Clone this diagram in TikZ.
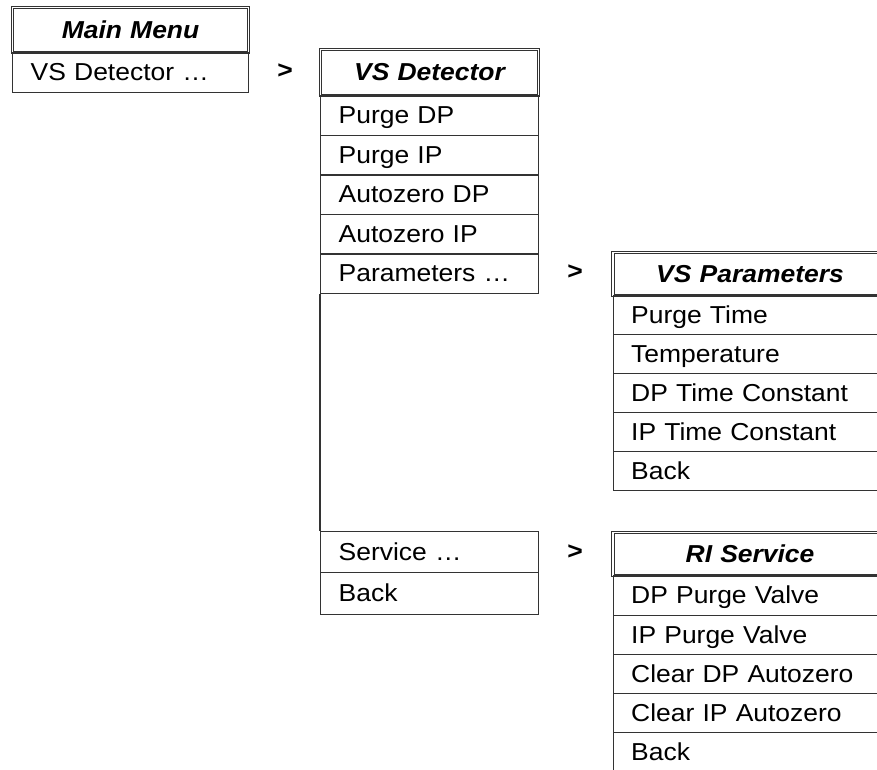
\documentclass[tikz,border=0pt]{standalone}
\usepackage{fontspec}
\setmainfont{Liberation Sans}[FakeStretch=1.08]
\definecolor{linec}{HTML}{333333}
\begin{document}
\begin{tikzpicture}[x=1pt,y=-1pt,
  txt/.style={font=\fontsize{24.5}{28}\selectfont},
  cell/.style={txt, draw=linec, line width=1.4pt, anchor=north west,
    inner xsep=18pt, inner ysep=0pt, text height=18pt, text depth=2pt,
    align=left, minimum height=#1},
  cell/.default=39.6pt,
  head/.style={txt, draw=linec, double=white, double distance=1.5pt, line width=1.1pt,
    anchor=north west, inner xsep=0pt, inner ysep=0pt, text height=18pt, text depth=2pt,
    align=center, font=\fontsize{24.5}{28}\selectfont\bfseries\itshape, minimum height=#1},
  head/.default=46pt,
  gt/.style={font=\fontsize{24.5}{28}\selectfont\bfseries, inner sep=0pt, text=black}
]
\useasboundingbox (0,0) rectangle (877,769);
\clip (0,0) rectangle (877,769);

% Main Menu
\node[head=45pt, text width=236pt] (mm) at (12,7) {Main Menu};
\node[cell=39.5pt, text width=200pt] (mm1) at (12,52) {VS Detector …};

\node[gt] (g1) at (285,71) {>};

% VS Detector
\node[head=46pt, text width=218pt] (vd) at (320,49) {VS Detector};
\node[cell, text width=182pt] (vd1) at (320,95) {Purge DP};
\node[cell, text width=182pt] (vd2) at (320,134.6) {Purge IP};
\node[cell, text width=182pt] (vd3) at (320,174.2) {Autozero DP};
\node[cell, text width=182pt] (vd4) at (320,213.8) {Autozero IP};
\node[cell, text width=182pt] (vd5) at (320,253.4) {Parameters …};
\node[cell=41pt, text width=182pt] (vd6) at (320,531) {Service …};
\node[cell=42pt, text width=182pt] (vd7) at (320,572) {Back};
\draw[draw=linec, line width=1.4pt] (vd5.south west) -- (vd6.north west);

\node[gt] (g2) at (575,272) {>};
\node[gt] (g3) at (575,552) {>};

% VS Parameters
\node[head=43pt, text width=274pt] (vp) at (612.5,252) {VS Parameters};
\node[cell=39pt, text width=238pt] (vp1) at (612.5,295) {Purge Time};
\node[cell=39pt, text width=238pt] (vp2) at (612.5,334) {Temperature};
\node[cell=39pt, text width=238pt] (vp3) at (612.5,373) {DP Time Constant};
\node[cell=39pt, text width=238pt] (vp4) at (612.5,412) {IP Time Constant};
\node[cell=39pt, text width=238pt] (vp5) at (612.5,451) {Back};

% RI Service
\node[head=43pt, text width=274pt] (rs) at (612.5,532) {RI Service};
\node[cell=40pt, text width=238pt] (rs1) at (612.5,575) {DP Purge Valve};
\node[cell=39pt, text width=238pt] (rs2) at (612.5,615) {IP Purge Valve};
\node[cell=39pt, text width=238pt] (rs3) at (612.5,654) {Clear DP Autozero};
\node[cell=39pt, text width=238pt] (rs4) at (612.5,693) {Clear IP Autozero};
\node[cell=39pt, text width=238pt] (rs5) at (612.5,732) {Back};
\end{tikzpicture}
\end{document}
